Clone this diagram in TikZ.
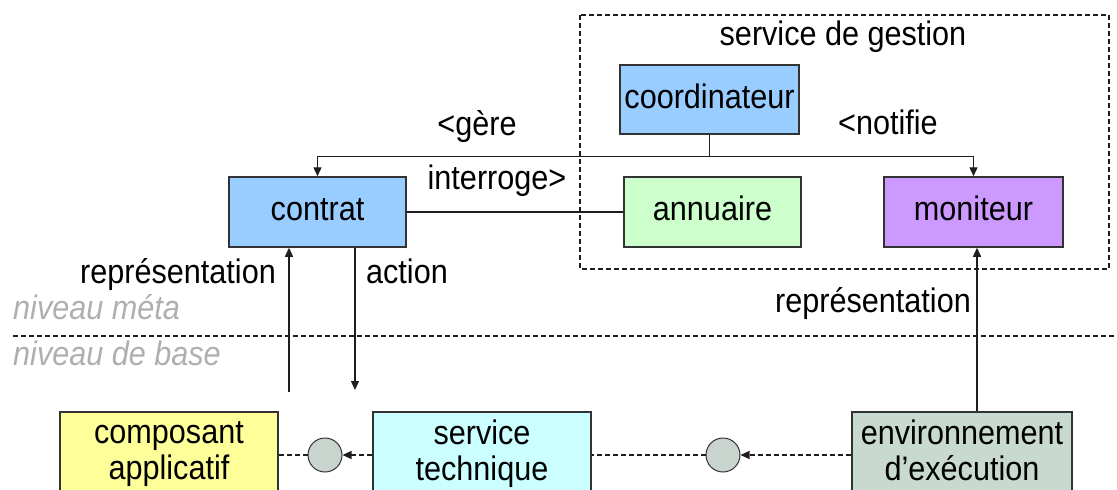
\documentclass[tikz,border=0pt]{standalone}
\usepackage{fontspec}
\setmainfont{Liberation Sans}[FakeStretch=0.9]
\usetikzlibrary{arrows.meta}
\definecolor{cblue}{RGB}{153,204,255}
\definecolor{cgreen}{RGB}{204,255,204}
\definecolor{cviolet}{RGB}{204,153,255}
\definecolor{cyellow}{RGB}{255,255,153}
\definecolor{ccyan}{RGB}{204,255,255}
\definecolor{cenv}{RGB}{200,218,208}
\definecolor{ccircle}{RGB}{200,212,205}
\definecolor{cline}{RGB}{30,30,30}
\definecolor{cborder}{RGB}{51,51,51}
\definecolor{cgraytext}{RGB}{175,175,175}
\begin{document}
\begin{tikzpicture}[x=1pt,y=-1pt,
 every node/.style={font=\fontsize{34}{33}\selectfont, inner sep=0pt},
 box/.style={draw=cborder, line width=1.5pt, rectangle, text height=17.6pt, text depth=0pt},
 lowbox/.style={draw=cborder, line width=1.5pt, rectangle, align=center, minimum width=218pt, minimum height=86pt},
 port/.style={draw=cborder, line width=1pt, circle, fill=ccircle, minimum size=34pt},
 link/.style={draw=cline, line width=1.4pt},
 arr/.style={-{Triangle[length=9pt,width=8pt]}},
 dlink/.style={draw=cline, line width=1.2pt, dash pattern=on 5pt off 3pt},
 lbl/.style={anchor=base},
 meta/.style={anchor=base west, text=cgraytext, font=\fontsize{34}{33}\selectfont\itshape}
]
\useasboundingbox (0,0) rectangle (1117,490);
\clip (0,0) rectangle (1117,490);

% management service frame
\draw[dlink] (580,15) rectangle (1109,269);
\node[lbl] (sgl) at (843,45) {service de gestion};

% meta-level nodes
\node[box, fill=cblue, minimum width=179pt, minimum height=69pt] (coord) at (709.5,99.5) {coordinateur};
\node[box, fill=cblue, minimum width=177pt, minimum height=70pt] (contrat) at (317.5,212) {contrat};
\node[box, fill=cgreen, minimum width=177pt, minimum height=70pt] (annu) at (712.5,212) {annuaire};
\node[box, fill=cviolet, minimum width=179pt, minimum height=70pt] (moni) at (973.5,212) {moniteur};

% base-level nodes
\node[lowbox, fill=cyellow] (comp) at (169,455) {\strut composant\\\strut applicatif};
\node[lowbox, fill=ccyan] (svc) at (482,455) {\strut service\\\strut technique};
\node[lowbox, fill=cenv, minimum width=220pt] (env) at (962,455) {\strut environnement\\\strut d’exécution};
\node[port] (p1) at (325,455) {};
\node[port] (p2) at (723,455) {};

% level separator
\draw[dlink] (13,336) -- (1117,336);
\node[meta] (nm) at (13,319) {niveau méta};
\node[meta] (nb) at (13,365) {niveau de base};

% connectors
\draw[link] (coord.south) -- ++(0,22) coordinate (junc);
\draw[link, arr] (junc) -| (contrat.north);
\draw[link, arr] (junc) -| (moni.north);
\draw[link] (contrat.east) -- (annu.west);
\coordinate (repL) at (289,392);
\draw[link, arr] (repL) -- (repL |- contrat.south);
\coordinate (actL) at (355,390);
\draw[link, arr] (actL |- contrat.south) -- (actL);
\coordinate (repR) at (977,0);
\draw[link, arr] (repR |- env.north) -- (repR |- moni.south);

\draw[dlink, arr] (env.west) -- (p2.east);
\draw[dlink] (p2.west) -- (svc.east);
\draw[dlink, arr] (svc.west) -- (p1.east);
\draw[dlink] (p1.west) -- (comp.east);

% labels
\node[lbl] (gere) at (477,135) {<gère};
\node[lbl] (notif) at (888,134) {<notifie};
\node[lbl] (interr) at (497,189) {interroge>};
\node[lbl] (repLlbl) at (178,283) {représentation};
\node[lbl] (actlbl) at (407,283) {action};
\node[lbl] (repRlbl) at (873,312) {représentation};
\end{tikzpicture}
\end{document}
